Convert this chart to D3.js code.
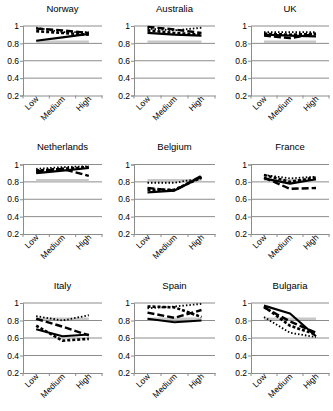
<!DOCTYPE html>
<html>
<head>
<meta charset="utf-8">
<script src="https://cdn.jsdelivr.net/npm/d3@7"></script>
<style>
body { margin: 0; background: #fff; }
svg { font-family: "Liberation Sans", Arial, sans-serif; }
</style>
</head>
<body>
<svg id="chart" width="333" height="411"></svg>
<script>
var countries = ["Norway", "Australia", "UK", "Netherlands", "Belgium", "France", "Italy", "Spain", "Bulgaria"];
var categories = ["Low", "Medium", "High"];
var yTicks = [0.2, 0.4, 0.6, 0.8, 1];
var refValue = 0.82;

// one triplet (Low, Medium, High) per country, same order as countries
var solidVals = [
  [0.83, 0.87, 0.91], [0.92, 0.90, 0.89], [0.90, 0.89, 0.88],
  [0.90, 0.93, 0.96], [0.68, 0.70, 0.86], [0.84, 0.78, 0.83],
  [0.70, 0.62, 0.64], [0.82, 0.78, 0.80], [0.97, 0.88, 0.62]
];
var dashVals = [
  [0.97, 0.95, 0.92], [0.99, 0.96, 0.92], [0.89, 0.86, 0.91],
  [0.92, 0.95, 0.87], [0.73, 0.70, 0.87], [0.85, 0.72, 0.73],
  [0.82, 0.73, 0.63], [0.89, 0.83, 0.92], [0.95, 0.79, 0.66]
];
var shortDashVals = [
  [0.94, 0.92, 0.90], [0.95, 0.92, 0.90], [0.91, 0.90, 0.91],
  [0.93, 0.95, 0.97], [0.71, 0.71, 0.85], [0.88, 0.80, 0.85],
  [0.74, 0.57, 0.59], [0.96, 0.95, 0.84], [0.96, 0.74, 0.64]
];
var dotVals = [
  [0.98, 0.93, 0.93], [0.97, 0.95, 0.98], [0.93, 0.93, 0.93],
  [0.95, 0.97, 0.98], [0.79, 0.79, 0.84], [0.88, 0.84, 0.86],
  [0.85, 0.80, 0.86], [0.94, 0.96, 0.99], [0.84, 0.66, 0.61]
];

var colX = [[23, 102], [134, 215], [251, 329]];
var rowY = [[26, 95.5], [164.5, 234], [303, 373]];
var titleY = [12, 150, 289];

var series = [
  {vals: dotVals, width: 1.8, dash: "1.5,2"},
  {vals: shortDashVals, width: 2.6, dash: "3,2"},
  {vals: dashVals, width: 2.4, dash: "7,3"},
  {vals: solidVals, width: 2.2, dash: null}
];

var svg = d3.select("#chart");

countries.forEach(function(name, i) {
  var c = i % 3, r = Math.floor(i / 3);
  var x = d3.scaleBand().domain(categories).range(colX[c]);
  var y = d3.scaleLinear().domain([0.2, 1]).range([rowY[r][1], rowY[r][0]]);
  var g = svg.append("g");

  // gridlines
  g.selectAll(".grid").data(yTicks.slice(1)).enter().append("line")
    .attr("x1", colX[c][0]).attr("x2", colX[c][1])
    .attr("y1", function(d) { return y(d); }).attr("y2", function(d) { return y(d); })
    .attr("stroke", "#8c8c8c").attr("stroke-width", 1);

  var yAxis = g.append("g")
    .attr("transform", "translate(" + colX[c][0] + ",0)")
    .call(d3.axisLeft(y).tickValues(yTicks).tickSize(3).tickFormat(d3.format("")));
  yAxis.select(".domain").attr("stroke", "#8c8c8c");
  yAxis.selectAll(".tick line").attr("stroke", "#8c8c8c");
  yAxis.selectAll("text").attr("font-size", "8.5px").attr("fill", "#000").attr("x", -4);

  var xAxis = g.append("g")
    .attr("transform", "translate(0," + rowY[r][1] + ")")
    .call(d3.axisBottom(x).tickSize(0));
  xAxis.select(".domain").attr("stroke", "#8c8c8c");
  xAxis.selectAll("text")
    .attr("font-size", "8.5px").attr("fill", "#000")
    .attr("text-anchor", "end")
    .attr("dy", 0).attr("y", 0)
    .attr("transform", "translate(3,4) rotate(-45)");
  // tick marks between categories
  var bounds = [colX[c][0]].concat(categories.map(function(d) { return x(d) + x.bandwidth(); }));
  g.selectAll(".xt").data(bounds).enter().append("line")
    .attr("x1", function(d) { return d; }).attr("x2", function(d) { return d; })
    .attr("y1", rowY[r][1]).attr("y2", rowY[r][1] + 3)
    .attr("stroke", "#8c8c8c");

  var cx = function(d) { return x(d) + x.bandwidth() / 2; };

  // reference line
  g.append("line")
    .attr("x1", cx(categories[0])).attr("x2", cx(categories[2]))
    .attr("y1", y(refValue)).attr("y2", y(refValue))
    .attr("stroke", "#c8c8c8").attr("stroke-width", 2.5);

  var line = d3.line()
    .x(function(d, k) { return cx(categories[k]); })
    .y(function(d) { return y(d); });

  series.forEach(function(s) {
    g.append("path")
      .attr("d", line(s.vals[i]))
      .attr("fill", "none")
      .attr("stroke", "#000")
      .attr("stroke-width", s.width)
      .attr("stroke-dasharray", s.dash)
      .attr("stroke-linejoin", "round");
  });

  svg.append("text")
    .attr("x", (colX[c][0] + colX[c][1]) / 2)
    .attr("y", titleY[r])
    .attr("text-anchor", "middle")
    .attr("font-size", "9.5px")
    .text(name);
});
</script>
</body>
</html>
